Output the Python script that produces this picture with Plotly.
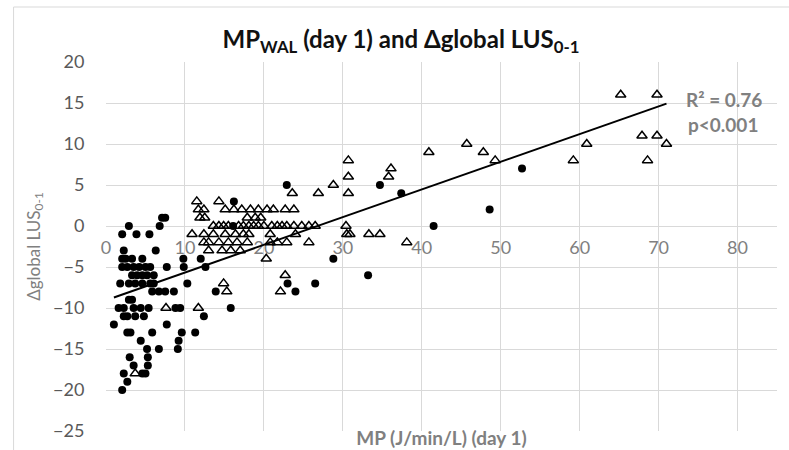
import numpy as np
import plotly.graph_objects as go

# ---- data ----
dots_x = [7.1, 7.5, 6.8, 2.9, 16.1, 41.5, 2.05, 3.86, 5.5, 16.2, 22.9, 34.7, 37.4, 48.6, 52.7,
          2.25, 6.3,
          2.05, 2.5, 3.3, 4.6, 9.8, 12.0, 28.8,
          2.05, 2.7, 3.5, 4.2, 5.0, 5.6, 7.7, 9.85, 12.6,
          3.3, 3.95, 4.6, 5.2, 6.05, 33.2,
          1.8, 2.9, 3.7, 4.6, 5.6, 6.05, 10.3, 23.0, 26.5,
          5.85, 6.7, 7.5, 8.6, 13.9, 24.0,
          2.9, 3.3,
          1.6, 2.25, 3.5, 4.4, 5.4, 8.8, 9.4, 15.8,
          2.25, 2.7, 3.7, 4.8, 12.4,
          1.0, 7.7,
          2.7, 3.1, 5.85, 9.6, 11.3,
          4.4, 9.2,
          5.2, 6.7, 9.1,
          3.0, 5.3,
          3.5, 5.3,
          2.25, 4.6, 5.0,
          2.7,
          2.05]
dots_y = [1, 1, 0, 0, 0, 0, -1, -1, -1, 3, 5, 5, 4, 2, 7,
          -3, -3,
          -4, -4, -4, -4, -4, -4, -4,
          -5, -5, -5, -5, -5, -5, -5, -5, -5,
          -6, -6, -6, -6, -6, -6,
          -7, -7, -7, -7, -7, -7, -7, -7, -7,
          -8, -8, -8, -8, -8, -8,
          -9, -9,
          -10, -10, -10, -10, -10, -10, -10, -10,
          -11, -11, -11, -11, -11,
          -12, -12,
          -13, -13, -13, -13, -13,
          -14, -14,
          -15, -15, -15,
          -16, -16,
          -17, -17,
          -18, -18, -18,
          -19,
          -20]

tri_x = [65.2, 69.8,
         67.9, 69.8,
         45.7, 60.9, 71.0,
         40.9, 47.8,
         30.7, 49.3, 59.2, 68.6,
         36.1,
         30.7, 35.8,
         28.8,
         23.6, 26.9, 30.7,
         11.5, 14.3,
         11.7, 12.4, 15.1, 16.2, 17.2, 18.3, 19.3, 20.4, 21.2, 22.7, 23.8,
         11.9, 12.5, 17.9, 18.9, 19.6,
         13.6, 14.3, 14.9, 15.5, 16.8, 17.4, 18.1, 18.7, 19.3, 20.0, 21.0, 21.7, 22.3, 22.9,
         23.8, 24.8, 25.7, 26.5, 30.4,
         10.9, 12.4, 13.6, 15.1, 16.4, 17.4, 18.1, 20.8, 24.0, 30.5, 30.9, 33.3, 34.7,
         12.4, 13.0, 14.3, 15.5, 16.6, 17.9, 20.8, 21.7, 22.9, 25.7, 38.1,
         13.0, 14.7, 15.8, 17.0,
         20.3,
         22.7,
         14.9,
         15.3, 22.1,
         7.6, 11.7,
         3.7]
tri_y = [16, 16,
         11, 11,
         10, 10, 10,
         9, 9,
         8, 8, 8, 8,
         7,
         6, 6,
         5,
         4, 4, 4,
         3, 3,
         2, 2, 2, 2, 2, 2, 2, 2, 2, 2, 2,
         1, 1, 1, 1, 1,
         0, 0, 0, 0, 0, 0, 0, 0, 0, 0, 0, 0, 0, 0,
         0, 0, 0, 0, 0,
         -1, -1, -1, -1, -1, -1, -1, -1, -1, -1, -1, -1, -1,
         -2, -2, -2, -2, -2, -2, -2, -2, -2, -2, -2,
         -3, -3, -3, -3,
         -4,
         -6,
         -7,
         -8, -8,
         -10, -10,
         -18]

x_ticks = [0, 10, 20, 30, 40, 50, 60, 70, 80]
y_ticks = [-25, -20, -15, -10, -5, 0, 5, 10, 15, 20]
x_range = [0, 85]
y_range = [-25, 20]

# ---- linear trend over all points ----
all_x = np.array(dots_x + tri_x, dtype=float)
all_y = np.array(dots_y + tri_y, dtype=float)
slope, intercept = np.polyfit(all_x, all_y, 1)
trend_x = np.array([all_x.min(), all_x.max()])
trend_y = slope * trend_x + intercept

FONT = "Lato"
GRID = "#d9d9d9"
TICK = "#595959"
MUTED = "#808080"

fig = go.Figure()
fig.add_trace(go.Scatter(x=dots_x, y=dots_y, mode="markers", name="dots",
                         marker=dict(symbol="circle", size=8, color="black"),
                         showlegend=False, cliponaxis=False))
fig.add_trace(go.Scatter(x=tri_x, y=tri_y, mode="markers", name="triangles",
                         marker=dict(symbol="triangle-up-open", size=9, color="black",
                                     line=dict(width=1.5, color="black")),
                         showlegend=False, cliponaxis=False))
fig.add_trace(go.Scatter(x=trend_x, y=trend_y, mode="lines", name="trend",
                         line=dict(color="black", width=2), showlegend=False))

L, R, T, B = 105.5, 12, 62, 19
W, H = 789, 450
pw, ph = W - L - R, H - T - B

def px_to_paper_x(px):
    return (px - L) / pw

def px_to_paper_y(py):
    return (H - B - py) / ph

zero_pos = (0 - y_range[0]) / (y_range[1] - y_range[0])

fig.update_layout(
    width=W, height=H,
    margin=dict(l=L, r=R, t=T, b=B, autoexpand=False),
    paper_bgcolor="white", plot_bgcolor="white",
    font=dict(family=FONT, size=14, color=TICK),
    title=dict(text="<b>MP<sub>WAL</sub> (day 1) and Δglobal LUS<sub>0-1</sub></b>",
               x=401 / W, xref="container", xanchor="center",
               y=1 - 40 / H, yref="container", yanchor="middle",
               font=dict(family=FONT, size=24, color="#111111")),
    xaxis=dict(range=x_range, tickvals=x_ticks, showticklabels=False,
               showgrid=True, gridcolor=GRID, gridwidth=1, zeroline=False,
               showline=False, ticks="",
               title=dict(text="<b>MP (J/min/L) (day 1)</b>", standoff=0,
                          font=dict(family=FONT, size=19, color=MUTED))),
    xaxis2=dict(range=x_range, tickvals=x_ticks, overlaying="x", anchor="free",
                position=zero_pos, side="bottom", showgrid=False, zeroline=False,
                showline=False, ticks="outside", ticklen=5, tickcolor="rgba(0,0,0,0)",
                tickfont=dict(family=FONT, size=18, color=MUTED), layer="below traces"),
    yaxis=dict(range=y_range, tickvals=y_ticks, showgrid=True, gridcolor=GRID,
               gridwidth=1, zeroline=True, zerolinecolor=GRID, zerolinewidth=1,
               showline=False, ticks="outside", ticklen=17, tickcolor="rgba(0,0,0,0)",
               tickfont=dict(family=FONT, size=18, color=TICK),
               title=dict(text="Δglobal LUS<sub>0-1</sub>", standoff=8,
                          font=dict(family=FONT, size=17, color=MUTED))),
    annotations=[
        dict(text="<b>R² = 0.76</b>", x=px_to_paper_x(724), y=px_to_paper_y(99),
             xref="paper", yref="paper", showarrow=False, xanchor="center",
             yanchor="middle", font=dict(family=FONT, size=19, color=MUTED)),
        dict(text="<b>p<0.001</b>", x=px_to_paper_x(723), y=px_to_paper_y(124),
             xref="paper", yref="paper", showarrow=False, xanchor="center",
             yanchor="middle", font=dict(family=FONT, size=19, color=MUTED)),
    ],
    shapes=[
        dict(type="line", xref="paper", yref="paper",
             x0=px_to_paper_x(13), x1=px_to_paper_x(13),
             y0=px_to_paper_y(460), y1=px_to_paper_y(7),
             line=dict(color=GRID, width=1)),
        dict(type="line", xref="paper", yref="paper",
             x0=px_to_paper_x(13), x1=px_to_paper_x(800),
             y0=px_to_paper_y(7), y1=px_to_paper_y(7),
             line=dict(color=GRID, width=1)),
    ],
)

fig.add_trace(go.Scatter(x=[None], y=[None], xaxis="x2", showlegend=False,
                         hoverinfo="skip"))

fig.write_html("out.html")
